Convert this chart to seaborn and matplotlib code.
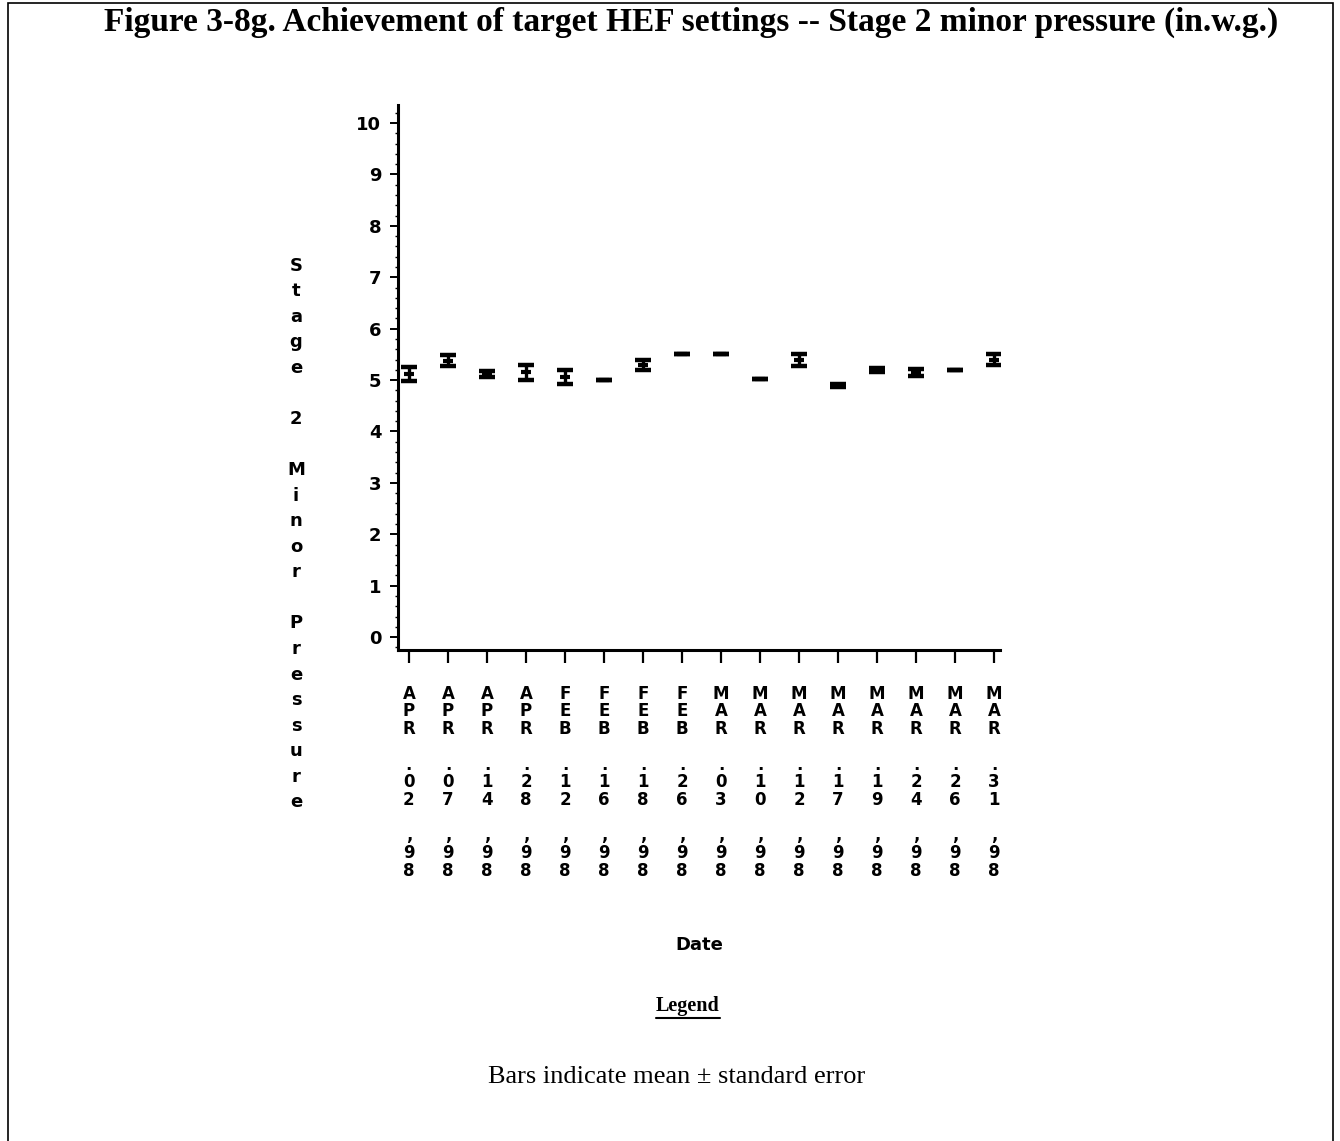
import matplotlib
matplotlib.use("Agg")
import matplotlib.pyplot as plt
import seaborn as sns
import pandas as pd
import numpy as np
from matplotlib.patches import Rectangle
from matplotlib.lines import Line2D
from matplotlib.ticker import MultipleLocator, FixedLocator

# ---- data ----
months = ["APR", "APR", "APR", "APR", "FEB", "FEB", "FEB", "FEB",
          "MAR", "MAR", "MAR", "MAR", "MAR", "MAR", "MAR", "MAR"]
days = ["02", "07", "14", "28", "12", "16", "18", "26",
        "03", "10", "12", "17", "19", "24", "26", "31"]
year = "98"
means = [5.12, 5.38, 5.12, 5.15, 5.06, 5.00, 5.29, 5.51,
         5.50, 5.02, 5.39, 4.89, 5.19, 5.15, 5.20, 5.40]
std_errors = [0.14, 0.10, 0.06, 0.145, 0.13, 0.0, 0.10, 0.0,
              0.0, 0.0, 0.11, 0.03, 0.04, 0.07, 0.0, 0.10]
y_ticks = list(range(0, 11))

title = "Figure 3-8g. Achievement of target HEF settings -- Stage 2 minor pressure (in.w.g.)"
y_label = "Stage 2 Minor Pressure"
x_label = "Date"
legend_title = "Legend"
legend_text = "Bars indicate mean \u00b1 standard error"


def stacked(s):
    return "\n".join(list(s))


tick_labels = ["\n".join(list(m) + ["", "."] + list(d) + ["", ","] + list(year))
               for m, d in zip(months, days)]

df = pd.DataFrame({"pos": np.arange(len(means)), "mean": means, "se": std_errors})

# ---- style ----
sns.set_style("ticks")
plt.rcParams['font.family'] = ['DejaVu Sans']
plt.rcParams['text.color'] = 'black'
plt.rcParams['axes.labelcolor'] = 'black'
plt.rcParams['xtick.color'] = 'black'
plt.rcParams['ytick.color'] = 'black'

W, H = 1340, 1141
fig = plt.figure(figsize=(W / 100, H / 100), dpi=100)
ax = fig.add_axes([398 / W, 1 - 650 / H, (1000 - 398) / W, (650 - 105) / H])

ax.errorbar(df["pos"], df["mean"], yerr=df["se"], fmt="none", ecolor="black",
            elinewidth=2.4, capsize=5.8, capthick=3.2)
sns.scatterplot(data=df, x="pos", y="mean", marker="_", s=45, linewidth=3,
                color="black", ax=ax, legend=False)

ax.set_xlim(-0.28, 15.15)
ax.set_ylim(-0.25, 10.35)

ax.xaxis.set_major_locator(FixedLocator(df["pos"].tolist()))
ax.set_xticklabels(tick_labels, fontsize=12, fontweight="bold",
                   linespacing=0.98, va="top", color="black")
ax.set_yticks(y_ticks)
ax.set_yticklabels([str(t) for t in y_ticks], fontsize=13, fontweight="bold",
                   color="black")
ax.yaxis.set_minor_locator(MultipleLocator(0.2))

for side in ["top", "right"]:
    ax.spines[side].set_visible(False)
for side in ["left", "bottom"]:
    ax.spines[side].set_linewidth(2.2)
    ax.spines[side].set_color("black")

ax.tick_params(axis="x", which="major", length=9, width=1.6, pad=16, colors="black")
ax.tick_params(axis="y", which="major", length=6, width=1.4, pad=6, colors="black")
ax.tick_params(axis="y", which="minor", length=2, width=1.0, colors="black")
ax.set_xlabel("")
ax.set_ylabel("")

# stacked y-axis label
ax.text((296 - 398) / 602, (650 - 534) / 545, stacked(y_label),
        transform=ax.transAxes, ha="center", va="center", fontsize=13,
        fontweight="bold", linespacing=1.54, color="black")

# x-axis label
fig.text(699 / W, 1 - 945 / H, x_label, ha="center", va="center",
         fontsize=13, fontweight="bold", color="black")

# title
fig.text(691 / W, 1 - 22 / H, title, ha="center", va="center",
         fontfamily="Liberation Serif", fontweight="bold", fontsize=24,
         color="black")

# legend block
leg = fig.text(688 / W, 1 - 1006 / H, legend_title, ha="center", va="center",
               fontfamily="Liberation Serif", fontweight="bold", fontsize=14.5,
               color="black")
fig.text(677 / W, 1 - 1077 / H, legend_text, ha="center", va="center",
         fontfamily="Liberation Serif", fontsize=19, color="black")

fig.canvas.draw()
bb = leg.get_window_extent()
uy = 1 - 1018 / H
fig.add_artist(Line2D([bb.x0 / W, bb.x1 / W], [uy, uy], transform=fig.transFigure,
                      color="black", lw=1.5))

# outer border
fig.add_artist(Rectangle((8 / W, -0.01), (1333 - 8) / W, 1 - 3 / H + 0.01,
                         transform=fig.transFigure, fill=False, lw=1.2,
                         edgecolor="black"))

fig.savefig("out.png", dpi=100)
